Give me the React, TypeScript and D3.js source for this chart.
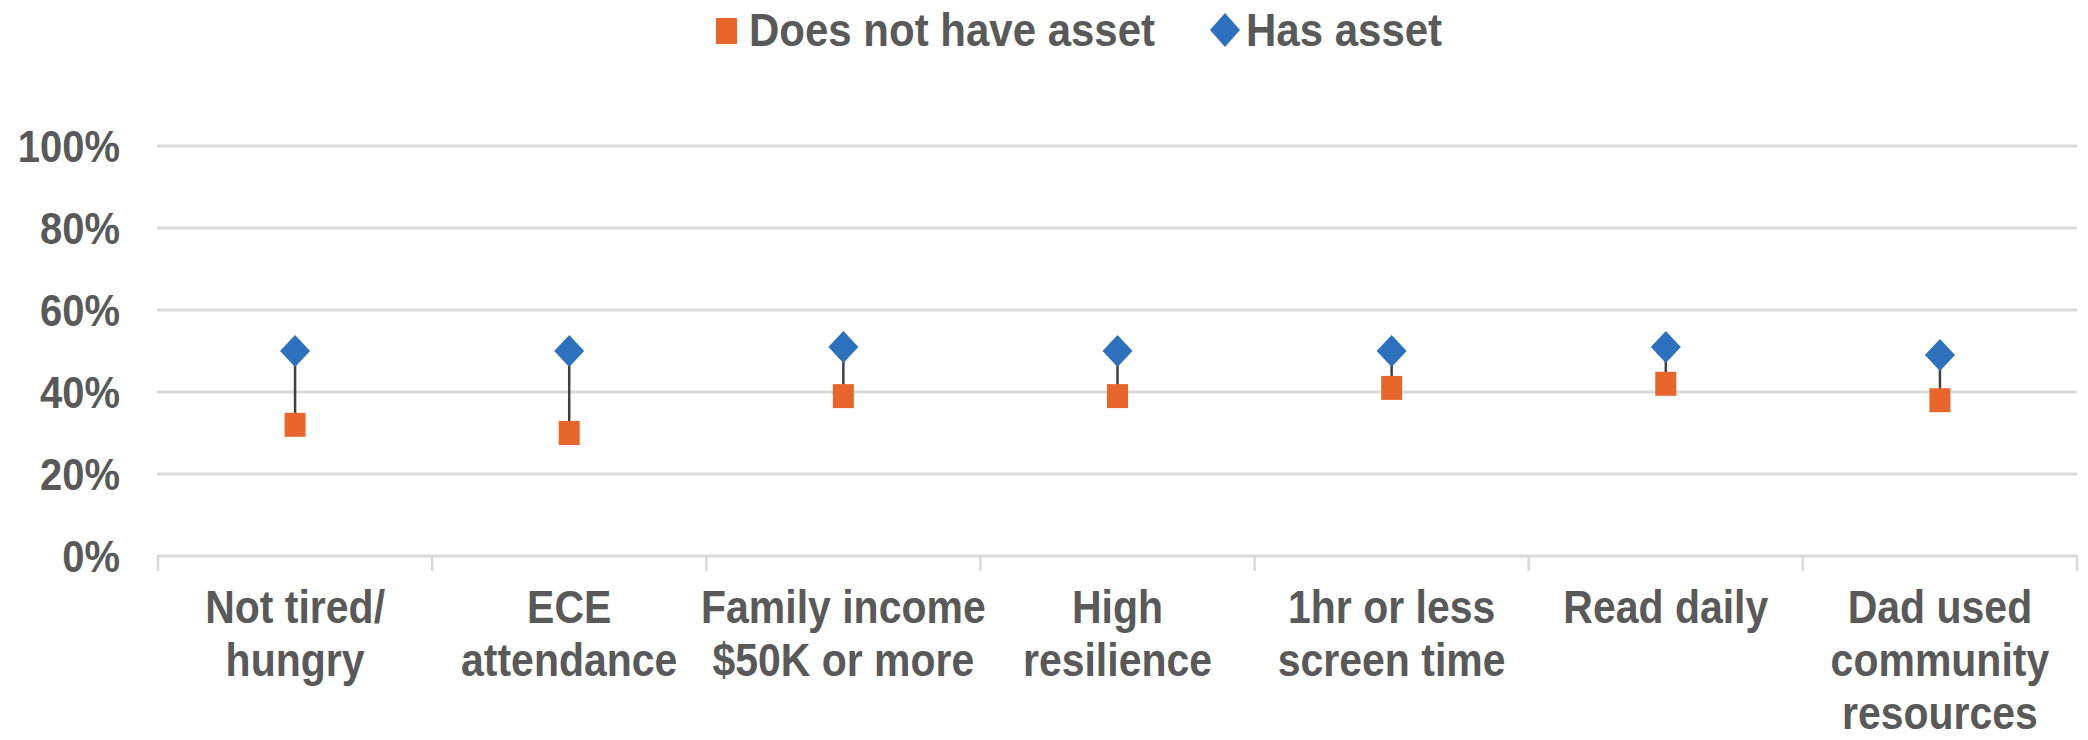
import React from "react";
import * as d3 from "d3";

const categories: string[][] = [
  ["Not tired/", "hungry"],
  ["ECE", "attendance"],
  ["Family income", "$50K or more"],
  ["High", "resilience"],
  ["1hr or less", "screen time"],
  ["Read daily"],
  ["Dad used", "community", "resources"],
];
const hasAsset = [50, 50, 51, 50, 50, 51, 49];
const notAsset = [32, 30, 39, 39, 41, 42, 38];
const yTicks = [0, 20, 40, 60, 80, 100];
const seriesNames = ["Does not have asset", "Has asset"];

const W = 2088;
const H = 740;
const ORANGE = "#E8662C";
const BLUE = "#2C70BE";
const TEXT = "#595959";
const GRID = "#D9D9D9";
const FONT = "'Liberation Sans', Arial, sans-serif";
const SY = 1.12;

function T(props: { x: number; y: number; size: number; anchor?: string; children: React.ReactNode }) {
  return (
    <text
      transform={`translate(${props.x},${props.y}) scale(1,${SY})`}
      fontSize={props.size}
      fill={TEXT}
      textAnchor={props.anchor || "start"}
    >
      {props.children}
    </text>
  );
}

export default function App() {
  const keys = categories.map((_, i) => String(i));
  const x = d3.scaleBand<string>().domain(keys).range([158, 2077]).padding(0);
  const y = d3.scaleLinear().domain([0, 100]).range([556, 146]);
  const bw = x.bandwidth();
  const cx = (i: number) => (x(String(i)) as number) + bw / 2;

  const diamond = (px: number, py: number, w = 30, h = 32) =>
    `M${px},${py - h / 2}L${px + w / 2},${py}L${px},${py + h / 2}L${px - w / 2},${py}Z`;

  return (
    <svg
      width={W}
      height={H}
      style={{ position: "absolute", left: 0, top: 0, display: "block", background: "#fff" }}
      fontFamily={FONT}
      fontWeight="bold"
    >
      <rect x={0} y={0} width={W} height={H} fill="#fff" />
      {/* legend */}
      <rect x={716} y={18} width={21} height={26} fill={ORANGE} />
      <T x={749} y={46} size={42}>{seriesNames[0]}</T>
      <path d={diamond(1225, 30, 30, 34)} fill={BLUE} />
      <T x={1246} y={46} size={42}>{seriesNames[1]}</T>

      {/* gridlines */}
      {yTicks.filter((t) => t > 0).map((t) => (
        <line key={t} x1={157} x2={2077} y1={y(t)} y2={y(t)} stroke={GRID} strokeWidth={3} />
      ))}
      {/* y labels */}
      {yTicks.map((t) => (
        <T key={t} x={120} y={y(t) + 16} size={40} anchor="end">
          {t}%
        </T>
      ))}
      {/* x axis */}
      <line x1={157} x2={2078} y1={y(0)} y2={y(0)} stroke={GRID} strokeWidth={3} />
      {d3.range(categories.length + 1).map((i) => {
        const xx = i < categories.length ? (x(String(i)) as number) : 2077;
        return <line key={i} x1={xx} x2={xx} y1={y(0)} y2={y(0) + 15} stroke={GRID} strokeWidth={2.5} />;
      })}
      {/* x labels */}
      {categories.map((lines, i) =>
        lines.map((l, j) => (
          <T key={i + "-" + j} x={cx(i)} y={623 + j * 53} size={41} anchor="middle">
            {l}
          </T>
        ))
      )}
      {/* connectors */}
      {categories.map((_, i) => (
        <line key={i} x1={cx(i)} x2={cx(i)} y1={y(hasAsset[i])} y2={y(notAsset[i])} stroke="#404040" strokeWidth={2.5} />
      ))}
      {/* markers */}
      {categories.map((_, i) => (
        <rect key={"n" + i} x={cx(i) - 10.5} y={y(notAsset[i]) - 12} width={21} height={24} fill={ORANGE} />
      ))}
      {categories.map((_, i) => (
        <path key={"h" + i} d={diamond(cx(i), y(hasAsset[i]))} fill={BLUE} />
      ))}
    </svg>
  );
}
